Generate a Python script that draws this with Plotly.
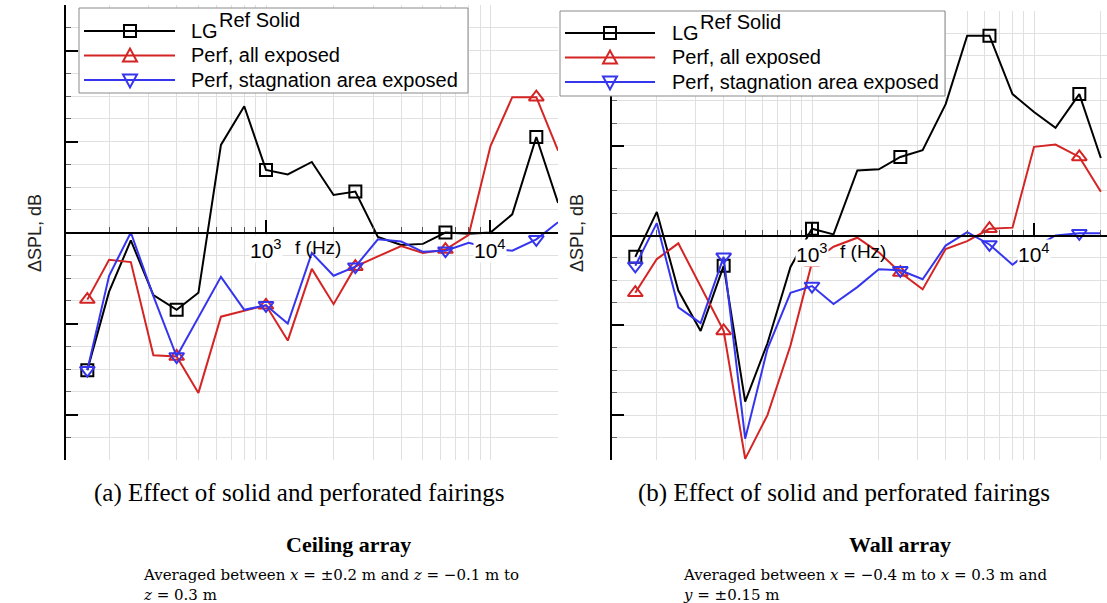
import numpy as np
import plotly.graph_objects as go

W, H = 1107, 603

# One-third-octave band centre frequencies (Hz)
freq_hz = [160, 200, 250, 315, 400, 500, 630, 800, 1000, 1250, 1600, 2000,
           2500, 3150, 4000, 5000, 6300, 8000, 10000, 12500, 16000, 20000]

# Ceiling array: delta SPL (dB) relative to the baseline landing gear
ceiling_lg_ref_solid = [-6.05, -2.6, -0.35, -2.75, -3.4, -2.65, 3.85, 5.55, 2.75, 2.55, 3.1,
                        1.65, 1.8, -0.2, -0.55, -0.5, 0.0, -0.05, 0.0, 0.8, 4.2, 1.3]
ceiling_perf_all = [-2.95, -1.2, -1.3, -5.4, -5.45, -7.05, -3.7, -3.45, -3.2, -4.75, -1.6,
                    -3.15, -1.5, -1.05, -0.6, -0.9, -0.75, -0.1, 3.8, 5.95, 5.95, 3.6]
ceiling_perf_stag = [-6.05, -1.9, 0.0, -2.8, -5.45, -3.7, -1.95, -3.4, -3.2, -4.0, -0.9,
                     -1.9, -1.5, -0.3, -0.4, -0.85, -0.8, -0.45, -0.7, -0.8, -0.3, 0.45]

# Wall array: delta SPL (dB)
wall_lg_ref_solid = [-0.95, 1.05, -2.45, -4.25, -1.35, -7.4, -4.8, -1.4, 0.3, 0.05, 2.9,
                     2.95, 3.5, 3.8, 5.85, 8.9, 8.9, 6.3, 5.5, 4.8, 6.3, 3.45]
wall_perf_all = [-2.55, -1.05, -0.35, -2.25, -4.25, -9.95, -8.0, -4.9, -1.2, -0.5, -0.1,
                 -0.75, -1.65, -2.4, -0.6, -0.25, 0.3, 0.35, 3.95, 4.05, 3.5, 1.95]
wall_perf_stag = [-1.35, 0.55, -3.2, -3.9, -0.95, -9.05, -5.05, -2.55, -2.25, -3.05, -2.3,
                  -1.5, -1.55, -1.95, -0.45, 0.15, -0.4, -1.3, -0.55, 0.0, 0.1, 0.1]

series_labels = ["LG", "Perf, all exposed", "Perf, stagnation area exposed"]
series_colors = ["#000000", "#d42424", "#3535ee"]
series_symbols = ["square-open", "triangle-up-open", "triangle-down-open"]
symbol_every = 4

decade_ticks = [1000, 10000]
decade_labels = ["10<sup>3</sup>", "10<sup>4</sup>"]
minor_ticks = [200, 300, 400, 500, 600, 700, 800, 900,
               2000, 3000, 4000, 5000, 6000, 7000, 8000, 9000,
               20000]

GRID = "#e0e0e0"
SANS = "Arial, Liberation Sans, sans-serif"
SERIF = "Liberation Serif, Times New Roman, serif"
NOTE_FONT = "DejaVu Serif, serif"


def X(p):
    return p / W


def Y(p):
    return 1 - p / H


panels = [
    dict(xa="x", ya="y", xpix=(66, 558), ypix=(460, 5), zero=232.5,
         xrange=(2.1091, 4.3007),
         data=[ceiling_lg_ref_solid, ceiling_perf_all, ceiling_perf_stag],
         legend=dict(box=(79, 8, 468, 93), line=(84, 175), mark=130,
                     rows=(31, 55.5, 80), text=189, sup=217),
         title_x=35, fhz_x=293),
    dict(xa="x2", ya="y2", xpix=(612, 1107), ypix=(460, 11), zero=235.5,
         xrange=(2.0991, 4.3288),
         data=[wall_lg_ref_solid, wall_perf_all, wall_perf_stag],
         legend=dict(box=(560, 11, 945, 96), line=(565, 655), mark=610,
                     rows=(33, 57.5, 82), text=670, sup=698),
         title_x=577, fhz_x=838),
]

fig = go.Figure()
shapes = []
annotations = []

for i, p in enumerate(panels):
    sfx = "" if i == 0 else str(i + 1)
    for vals, color, sym in zip(p["data"], series_colors, series_symbols):
        fig.add_trace(go.Scatter(
            x=freq_hz, y=vals, mode="lines", xaxis=p["xa"], yaxis=p["ya"],
            line=dict(color=color, width=2), showlegend=False, hoverinfo="skip"))
        fig.add_trace(go.Scatter(
            x=freq_hz[::symbol_every], y=vals[::symbol_every], mode="markers",
            xaxis=p["xa"], yaxis=p["ya"], showlegend=False, hoverinfo="skip",
            marker=dict(symbol=sym, size=12 if sym.startswith("square") else 13,
                        color=color, line=dict(color=color, width=2))))

    fig.layout["xaxis" + sfx] = dict(
        type="log", range=list(p["xrange"]),
        domain=[X(p["xpix"][0]), X(p["xpix"][1])],
        anchor="free", position=Y(p["zero"]),
        showline=True, linecolor="black", linewidth=2,
        tickmode="array", tickvals=decade_ticks, showticklabels=False,
        ticks="inside", ticklen=12, tickwidth=2, tickcolor="black",
        showgrid=True, gridcolor=GRID, gridwidth=1, zeroline=False,
        minor=dict(tickmode="array", tickvals=minor_ticks, ticks="inside",
                   ticklen=5, tickwidth=1, tickcolor="#555555",
                   showgrid=True, gridcolor=GRID, gridwidth=1),
        fixedrange=True)
    fig.layout["yaxis" + sfx] = dict(
        range=[-10, 10], domain=[Y(p["ypix"][0]), Y(p["ypix"][1])],
        anchor=p["xa"], showline=True, linecolor="black", linewidth=2,
        tick0=0, dtick=4, showticklabels=False,
        ticks="inside", ticklen=12, tickwidth=2, tickcolor="black",
        showgrid=True, gridcolor=GRID, gridwidth=1, zeroline=False,
        minor=dict(dtick=1, ticks="inside", ticklen=5, tickwidth=1,
                   tickcolor="#666666", showgrid=True, gridcolor=GRID, gridwidth=1),
        fixedrange=True)

    # decade labels sit under the zero line on a white backing
    for tv, tl in zip(decade_ticks, decade_labels):
        annotations.append(dict(
            x=np.log10(tv), y=0, xref=p["xa"], yref=p["ya"], text=tl,
            showarrow=False, xanchor="center", yanchor="top", yshift=-3,
            bgcolor="white", borderpad=0,
            font=dict(family=SANS, size=21, color="black")))
    annotations.append(dict(
        x=X(p["fhz_x"]), y=0, xref="paper", yref=p["ya"], text="f (Hz)",
        showarrow=False, xanchor="left", yanchor="top", yshift=-3,
        font=dict(family=SANS, size=19, color="black")))
    annotations.append(dict(
        x=X(p["title_x"]), y=Y(233), xref="paper", yref="paper",
        text="\u0394SPL, dB", textangle=-90, showarrow=False,
        xanchor="center", yanchor="middle",
        font=dict(family=SANS, size=18, color="#222222")))

    # legend box
    lg = p["legend"]
    bx0, by0, bx1, by1 = lg["box"]
    shapes.append(dict(type="rect", xref="paper", yref="paper", layer="above",
                       x0=X(bx0), x1=X(bx1), y0=Y(by1), y1=Y(by0),
                       line=dict(color="#8a8a8a", width=1), fillcolor="white"))
    for row, color, sym in zip(lg["rows"], series_colors, series_symbols):
        shapes.append(dict(type="line", xref="paper", yref="paper", layer="above",
                           x0=X(lg["line"][0]), x1=X(lg["line"][1]), y0=Y(row), y1=Y(row),
                           line=dict(color=color, width=2)))
        mx = lg["mark"]
        if sym.startswith("square"):
            pts = [(mx - 6, row - 6), (mx + 6, row - 6), (mx + 6, row + 6), (mx - 6, row + 6)]
        elif sym.startswith("triangle-up"):
            pts = [(mx - 7, row + 6), (mx + 7, row + 6), (mx, row - 7)]
        else:
            pts = [(mx - 7, row - 5.5), (mx + 7, row - 5.5), (mx, row + 7.5)]
        path = "M " + " L ".join(f"{X(a):.5f},{Y(b):.5f}" for a, b in pts) + " Z"
        shapes.append(dict(type="path", xref="paper", yref="paper", layer="above",
                           path=path, line=dict(color=color, width=2),
                           fillcolor="rgba(0,0,0,0)"))
    for row, label in zip(lg["rows"], series_labels):
        annotations.append(dict(
            x=X(lg["text"]), y=Y(row), xref="paper", yref="paper", text=label,
            showarrow=False, xanchor="left", yanchor="middle",
            font=dict(family=SANS, size=20, color="black")))
    annotations.append(dict(
        x=X(lg["sup"]), y=Y(lg["rows"][0] - 11), xref="paper", yref="paper",
        text="Ref Solid", showarrow=False, xanchor="left", yanchor="middle",
        font=dict(family=SANS, size=20, color="black")))

# captions under each panel
captions = ["(a) Effect of solid and perforated fairings",
            "(b) Effect of solid and perforated fairings"]
array_names = ["Ceiling array", "Wall array"]
averaging_notes = [
    "Averaged between <i>x</i> = \u00b10.2 m and <i>z</i> = \u22120.1 m to<br><i>z</i> = 0.3 m",
    "Averaged between <i>x</i> = \u22120.4 m to <i>x</i> = 0.3 m and<br><i>y</i> = \u00b10.15 m",
]
caption_cx = [299, 844]
name_cx = [348, 900]
note_x = [141, 681]

for k in range(2):
    annotations.append(dict(
        x=X(caption_cx[k]), y=Y(493), xref="paper", yref="paper", text=captions[k],
        showarrow=False, xanchor="center", yanchor="middle",
        font=dict(family=SERIF, size=25, color="black")))
    annotations.append(dict(
        x=X(name_cx[k]), y=Y(544), xref="paper", yref="paper",
        text="<b>" + array_names[k] + "</b>",
        showarrow=False, xanchor="center", yanchor="middle",
        font=dict(family=SERIF, size=22, color="black")))
    annotations.append(dict(
        x=X(note_x[k]), y=Y(585), xref="paper", yref="paper", text=averaging_notes[k],
        showarrow=False, xanchor="left", yanchor="middle", align="left",
        font=dict(family=NOTE_FONT, size=15, color="black")))

fig.update_layout(
    width=W, height=H, margin=dict(l=0, r=0, t=0, b=0),
    paper_bgcolor="white", plot_bgcolor="white",
    shapes=shapes, annotations=annotations, showlegend=False)

fig.write_html("out.html")
